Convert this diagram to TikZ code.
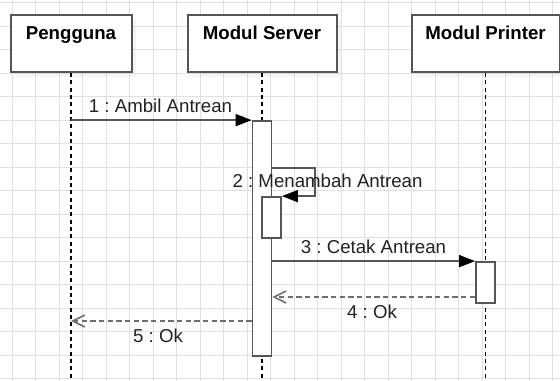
\documentclass[tikz,border=0pt]{standalone}
\usepackage{fontspec}
\setmainfont{Liberation Sans}
\frenchspacing
\usetikzlibrary{arrows.meta,shadows}
\definecolor{gridc}{HTML}{E0E0E0}
\definecolor{linec}{HTML}{555555}
\definecolor{txtc}{HTML}{222222}
\tikzset{
  gridline/.style={draw=gridc,line width=0.6pt},
  objbox/.style={draw=linec,line width=1.5pt,fill=white,inner sep=0pt,
    minimum width=#1,text height=18.75pt,text depth=24pt,
    font=\fontsize{14}{16}\selectfont\bfseries,
    drop shadow={shadow xshift=3pt,shadow yshift=-4pt,opacity=0.08}},
  lifeline/.style={draw=black,line width=1pt,dash pattern=on 3pt off 2.5pt},
  actbar/.style={draw=linec,line width=1.3pt,fill=white,inner sep=0pt,
    minimum width=14.25pt,minimum height=#1},
  msg/.style={draw=linec,line width=1.2pt,-{Triangle[length=12pt,width=9pt,color=black]}},
  ret/.style={draw=linec!85,line width=1.2pt,dash pattern=on 4pt off 2.5pt,
    -{Straight Barb[length=9pt,width=9pt]}},
  msglabel/.style={anchor=base,inner sep=0pt,text=txtc,font=\fontsize{14}{16}\selectfont},
}
\begin{document}
\begin{tikzpicture}[x=0.75pt,y=-0.75pt]
\useasboundingbox (0,0) rectangle (560,381);
\fill[white] (0,0) rectangle (560,381);
% grid
\foreach \k in {0,...,23} \draw[gridline] ({12+23.5*\k},0) -- ({12+23.5*\k},381);
\foreach \k in {0,...,16} \draw[gridline] (0,{2.5+23.5*\k}) -- (560,{2.5+23.5*\k});
% objects
\node[objbox=90.75pt] (pg) at (71,43.5) {Pengguna};
\node[objbox=111.75pt] (sv) at (262,43.5) {Modul Server};
\node[objbox=111pt] (pr) at (485.5,43.5) {Modul Printer};
% lifeline ends
\coordinate (pgend) at (71,381);
\coordinate (svend) at (262,381);
\coordinate (prend) at (485.5,381);
\draw[lifeline] (pg.south) -- (pgend);
\draw[lifeline] (sv.south) -- (svend);
\draw[lifeline] (pr.south) -- (prend);
% activation bars
\node[actbar=176.25pt] (ba) at (262,238.5) {};
\node[actbar=30.75pt] (bb) at (271.5,217.5) {};
\node[actbar=30.75pt] (bc) at (485.5,282.5) {};
% message y positions
\coordinate (s2) at (315,168);
\coordinate (m4) at (400,297);
\coordinate (m5) at (160,321);
% messages
\draw[msg] (pg |- ba.north west) -- (ba.north west);
\node[msglabel] (l1) at (160.5,113) {1 : Ambil Antrean};
\draw[msg] (s2 -| ba.east) -- (s2) |- (bb.north east);
\node[msglabel] (l2) at (327.5,187) {2 : Menambah Antrean};
\draw[msg] (ba.east |- bc.north) -- (bc.north west);
\node[msglabel] (l3) at (373.5,253) {3 : Cetak Antrean};
\draw[ret] (bc.west |- m4) -- (ba.east |- m4);
\node[msglabel] (l4) at (372,318) {4 : Ok};
\draw[ret] (ba.west |- m5) -- (pg |- m5);
\node[msglabel] (l5) at (158,342) {5 : Ok};
\end{tikzpicture}
\end{document}
